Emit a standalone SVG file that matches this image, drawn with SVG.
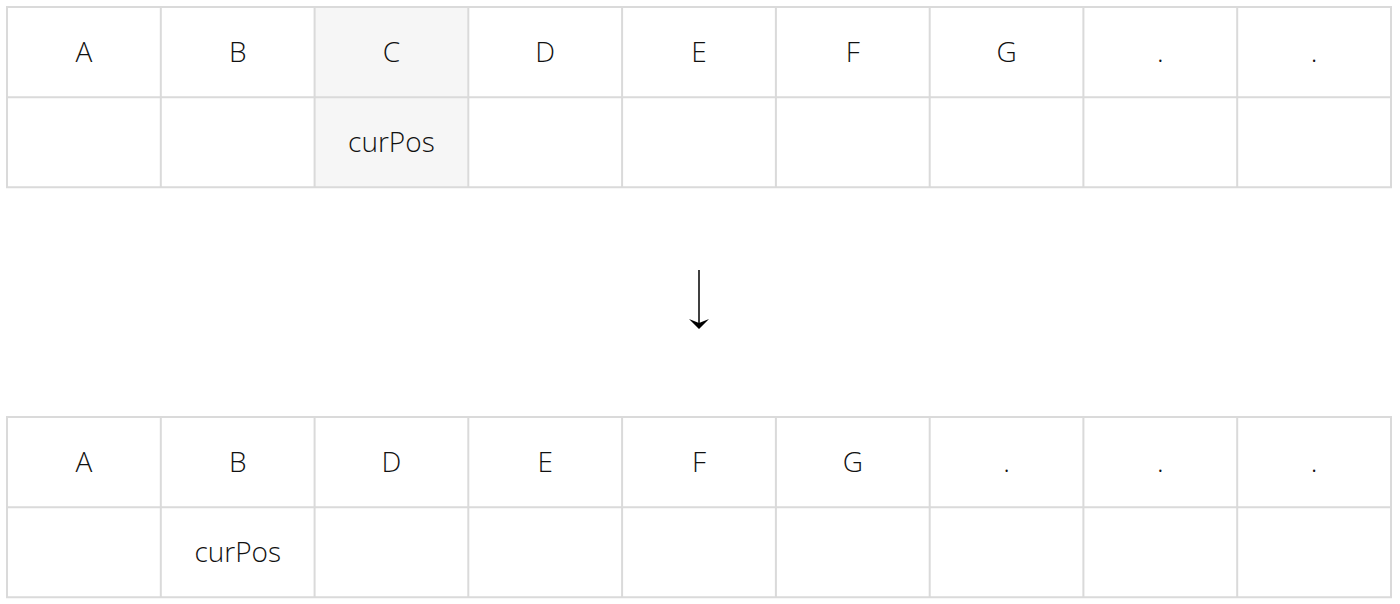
<svg xmlns="http://www.w3.org/2000/svg" width="1400" height="604" viewBox="0 0 1400 604">
<style>
.g{stroke:#dadada;stroke-width:2;fill:none}
.t{font-family:"Open Sans","Noto Sans",sans-serif;font-size:28px;fill:#111;text-anchor:middle;dominant-baseline:central;font-weight:300}
</style>
<rect width="1400" height="604" fill="#fff"/>
<g id="top-table">
<rect x="314.6" y="7" width="153.8" height="180.3" fill="#f6f6f6"/>
<path class="g" d="M7,7H1391V187.3H7Z M7,97.2H1391 M160.8,7V187.3 M314.6,7V187.3 M468.3,7V187.3 M622.1,7V187.3 M775.9,7V187.3 M929.7,7V187.3 M1083.4,7V187.3 M1237.2,7V187.3"/>
<text class="t" x="83.9" y="50.5">A</text>
<text class="t" x="237.7" y="50.5">B</text>
<text class="t" x="391.4" y="50.5">C</text>
<text class="t" x="545.2" y="50.5">D</text>
<text class="t" x="699" y="50.5">E</text>
<text class="t" x="852.8" y="50.5">F</text>
<text class="t" x="1006.6" y="50.5">G</text>
<text class="t" x="1160.3" y="50.5">.</text>
<text class="t" x="1314.1" y="50.5">.</text>
<text class="t" x="391.4" y="140.5">curPos</text>
</g>
<g id="connectors">
<line x1="699" y1="270" x2="699" y2="325" stroke="#000" stroke-width="1.5"/>
<path d="M689,319 L699,329 L709,319 L699,323 Z" fill="#000"/>
</g>
<g id="bottom-table">
<path class="g" d="M7,417H1391V597.3H7Z M7,507.2H1391 M160.8,417V597.3 M314.6,417V597.3 M468.3,417V597.3 M622.1,417V597.3 M775.9,417V597.3 M929.7,417V597.3 M1083.4,417V597.3 M1237.2,417V597.3"/>
<text class="t" x="83.9" y="460.5">A</text>
<text class="t" x="237.7" y="460.5">B</text>
<text class="t" x="391.4" y="460.5">D</text>
<text class="t" x="545.2" y="460.5">E</text>
<text class="t" x="699" y="460.5">F</text>
<text class="t" x="852.8" y="460.5">G</text>
<text class="t" x="1006.6" y="460.5">.</text>
<text class="t" x="1160.3" y="460.5">.</text>
<text class="t" x="1314.1" y="460.5">.</text>
<text class="t" x="237.7" y="550.5">curPos</text>
</g>
</svg>
